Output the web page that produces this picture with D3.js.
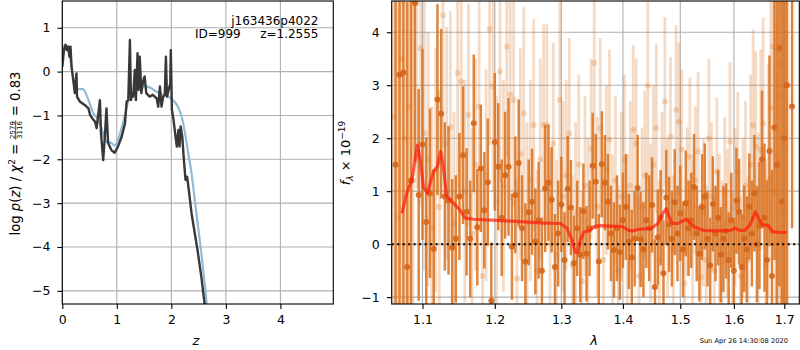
<!DOCTYPE html>
<html>
<head>
<meta charset="utf-8">
<script src="https://cdn.jsdelivr.net/npm/d3@7"></script>
<style>
  body { margin: 0; background: #fff; }
  svg text { font-family: "DejaVu Sans", sans-serif; white-space: pre; }
</style>
</head>
<body>
<svg id="chart" width="800" height="350"></svg>
<script>
// ---- p(z) panel data ----
const pzZ = [0, 0.03, 0.06, 0.08, 0.11, 0.13, 0.15, 0.17, 0.2, 0.23, 0.26, 0.27, 0.32, 0.41, 0.48, 0.51,
  0.57, 0.6, 0.63, 0.69, 0.71, 0.75, 0.78, 0.81, 0.84, 0.9, 0.96, 1.02, 1.09, 1.15, 1.18, 1.21, 1.24,
  1.26, 1.28, 1.30, 1.33, 1.35, 1.38, 1.40, 1.42, 1.45, 1.48, 1.51, 1.54, 1.60, 1.66, 1.73, 1.76, 1.79,
  1.82, 1.85, 1.88, 1.90, 1.92, 1.95, 1.98, 1.99, 2.01, 2.04, 2.07, 2.10, 2.13, 2.15, 2.17, 2.20, 2.23,
  2.26, 2.29, 2.32, 2.37, 2.41, 2.48, 2.55, 2.61, 2.67];
const pzLog = [0.11, 0.49, 0.61, 0.49, 0.57, 0.34, 0.57, 0.11, -0.19, -0.49, -0.04, -0.57, -0.68, -0.76,
  -0.84, -0.99, -1.10, -1.14, -1.29, -0.65, -1.41, -2.02, -1.48, -0.84, -1.63, -1.79, -1.85, -1.71, -1.48,
  -1.18, -0.68, -0.65, 0.72, -0.65, -0.49, -0.57, 0.04, -0.65, 0.42, -0.42, 0.34, -0.49, -0.23, -0.11,
  -0.49, -0.57, -0.53, -0.61, -0.80, -0.34, -0.80, -0.57, -0.53, 0.34, -0.57, -0.42, -0.27, 0.49, -0.87,
  -1.10, -1.41, -1.71, -1.33, -1.71, -1.25, -1.48, -2.02, -2.47, -2.40, -2.70, -3.23, -3.54, -4.07,
  -4.68, -5.30, -5.97];
const priorZ = [0, 0.05, 0.11, 0.17, 0.23, 0.29, 0.38, 0.48, 0.57, 0.66, 0.75, 0.81, 0.9, 0.96, 1.02,
  1.12, 1.21, 1.30, 1.39, 1.48, 1.60, 1.73, 1.85, 1.94, 2.03, 2.12, 2.18, 2.24, 2.30, 2.37, 2.43, 2.49,
  2.55, 2.61, 2.65, 2.70];
const priorLog = [0.49, 0.61, 0.49, 0.11, -0.30, -0.40, -0.40, -0.65, -0.95, -1.10, -1.41, -1.60, -1.63,
  -1.69, -1.56, -1.14, -0.68, -0.49, -0.34, -0.33, -0.36, -0.46, -0.53, -0.57, -0.65, -0.80, -0.99,
  -1.33, -1.79, -2.32, -2.93, -3.54, -4.14, -4.83, -5.30, -5.90];
const zTicks = [0, 1, 2, 3, 4];
const pzTicks = [-5, -4, -3, -2, -1, 0, 1];

// ---- spectrum panel data (flux in 1e-19) ----
const waveA = [1.065, 1.070, 1.075, 1.080, 1.085, 1.090, 1.095, 1.100, 1.105, 1.110,
  1.115, 1.120, 1.125, 1.130, 1.135, 1.140, 1.145, 1.150, 1.155, 1.160,
  1.165, 1.170, 1.175, 1.180, 1.185, 1.190, 1.195, 1.200, 1.205, 1.210,
  1.215, 1.220, 1.225, 1.230, 1.235, 1.240, 1.245, 1.250, 1.255, 1.260,
  1.265, 1.270, 1.275, 1.280, 1.285, 1.290, 1.295, 1.300, 1.305, 1.310,
  1.315, 1.320, 1.325, 1.330, 1.335, 1.340, 1.345, 1.350, 1.355, 1.360,
  1.365, 1.370, 1.375, 1.380, 1.385, 1.390, 1.395, 1.400, 1.405, 1.410,
  1.415, 1.420, 1.425, 1.430, 1.435, 1.440, 1.445, 1.450, 1.455, 1.460,
  1.465, 1.470, 1.475, 1.480, 1.485, 1.490, 1.495, 1.500, 1.505, 1.510,
  1.515, 1.520, 1.525, 1.530, 1.535, 1.540, 1.545, 1.550, 1.555, 1.560,
  1.565, 1.570, 1.575, 1.580, 1.585, 1.590, 1.595, 1.600, 1.605, 1.610,
  1.615, 1.620, 1.625, 1.630, 1.635, 1.640, 1.645, 1.650, 1.655, 1.660,
  1.665, 1.670, 1.675, 1.680, 1.685, 1.690, 1.695, 1.700, 1.705, 1.716];
const fluxA = [1.5, 3.2, 3.24, -0.43, 1.2, 4.55, 0.93, 1.88, 0.42, 0.96,
  -0.09, 2.73, 2.46, 0.9, 0.82, -0.07, 0.1, 0.9, 1.68, 0.61,
  0.1, 2.28, 0.32, 1.43, 0.64, 1.17, -1.07, 1.93, 1.46, 0.5,
  1.3, 1.46, -0.05, 0.93, 1.53, 0.3, -0.33, 0.6, 0.8, 0.05,
  0.45, -0.5, 1.05, 1.16, 0.84, -0.43, 0.2, 0.75, -0.3, 1.04,
  0.69, -0.36, 0.3, -0.2, 0.62, -0.18, 0.3, 1.48, 1.18, -0.33,
  1.51, 1.16, 0.8, 0.2, -0.11, 0.3, -0.15, 0.45, 0.7, 0.05,
  -0.25, 0.1, 1.06, 0.09, -0.1, 0.45, 0.3, 0.74, -0.81, 0.13,
  0.5, -0.55, 0.88, 0.37, 0.1, 0.79, 0.2, 0.58, -0.1, 0.77,
  0.3, 0.45, 1.08, 0.2, -0.18, 0.7, 0.9, 0.1, -0.4, 0.76,
  0.2, 0.5, -0.2, 0.1, 0.25, -0.3, 0.45, -0.5, 0.82, 0.61,
  -0.43, 0.1, -0.1, 0.71, 0.2, 0.96, 0.0, 0.35, 1.6, 0.5,
  -0.3, 1.76, -0.6, 2.2, 1.5, 3.7, 0.8, 2.0, 3.0, 2.6];
const errA = [8, 7, 6, 5, 4, 3.0, 2.0, 1.8, 1.6, 1.6,
  1.5, 1.8, 1.6, 1.4, 1.4, 1.3, 1.2, 1.2, 1.3, 1.2,
  1.1, 1.3, 1.1, 1.2, 1.1, 1.2, 1.1, 1.3, 1.2, 1.1,
  1.2, 1.3, 1.0, 1.1, 1.2, 1.0, 1.1, 1.0, 1.0, 1.0,
  1.1, 1.0, 1.2, 1.1, 1.0, 1.0, 1.0, 0.9, 0.9, 1.0,
  0.9, 0.9, 0.9, 0.9, 0.9, 0.9, 0.9, 1.0, 0.9, 0.9,
  1.0, 0.9, 0.9, 0.9, 0.9, 1.0, 0.9, 0.9, 1.0, 0.9,
  0.9, 0.9, 1.0, 0.9, 0.9, 0.9, 1.0, 0.9, 0.9, 0.9,
  0.9, 1.0, 0.9, 0.9, 0.9, 1.0, 0.9, 0.9, 0.9, 1.0,
  0.9, 0.9, 1.0, 0.9, 0.9, 1.0, 1.0, 0.9, 0.9, 0.9,
  0.9, 0.9, 0.9, 1.0, 0.9, 0.9, 0.9, 1.0, 1.0, 1.0,
  1.0, 1.0, 1.0, 1.0, 1.0, 1.1, 1.1, 1.2, 1.3, 1.4,
  1.5, 1.8, 2.0, 2.5, 3.5, 4.5, 6, 7, 8, 2.3];

const waveB = [1.0625, 1.0675, 1.0725, 1.0775, 1.0825, 1.0875, 1.0925, 1.0975, 1.1025, 1.1075,
  1.1125, 1.1175, 1.1225, 1.1275, 1.1325, 1.1375, 1.1425, 1.1475, 1.1525, 1.1575,
  1.1625, 1.1675, 1.1725, 1.1775, 1.1825, 1.1875, 1.1925, 1.1975, 1.2025, 1.2075,
  1.2125, 1.2175, 1.2225, 1.2275, 1.2325, 1.2375, 1.2425, 1.2475, 1.2525, 1.2575,
  1.2625, 1.2675, 1.2725, 1.2775, 1.2825, 1.2875, 1.2925, 1.2975, 1.3025, 1.3075,
  1.3125, 1.3175, 1.3225, 1.3275, 1.3325, 1.3375, 1.3425, 1.3475, 1.3525, 1.3575,
  1.3625, 1.3675, 1.3725, 1.3775, 1.3825, 1.3875, 1.3925, 1.3975, 1.4025, 1.4075,
  1.4125, 1.4175, 1.4225, 1.4275, 1.4325, 1.4375, 1.4425, 1.4475, 1.4525, 1.4575,
  1.4625, 1.4675, 1.4725, 1.4775, 1.4825, 1.4875, 1.4925, 1.4975, 1.5025, 1.5075,
  1.5125, 1.5175, 1.5225, 1.5275, 1.5325, 1.5375, 1.5425, 1.5475, 1.5525, 1.5575,
  1.5625, 1.5675, 1.5725, 1.5775, 1.5825, 1.5875, 1.5925, 1.5975, 1.6025, 1.6075,
  1.6125, 1.6175, 1.6225, 1.6275, 1.6325, 1.6375, 1.6425, 1.6475, 1.6525, 1.6575,
  1.6625, 1.6675, 1.6725, 1.6775, 1.6825, 1.6875, 1.6925, 1.6975, 1.7025, 1.7075];
const fluxB = [2.4, 0.5, 3.5, 2.0, 2.6, 1.2, 4.55, 3.7, 2.1, 1.6,
  0.3, 1.4, 0.7, 4.32, 1.9, 2.2, 0.4, 3.23, 3.07, 1.0,
  2.44, 0.2, 1.5, 2.6, -0.6, 1.3, 4.06, 2.98, 0.8, 3.26,
  1.1, 3.73, 2.82, 2.72, -0.65, 1.7, 2.47, 0.4, 1.2, 2.25,
  -0.5, 1.6, 2.25, 2.25, 0.0, 1.9, -0.2, 2.72, 0.9, 1.3,
  2.09, -0.4, 0.6, 1.5, -0.7, 1.1, 0.3, 1.8, 3.42, 0.7,
  2.19, -0.3, 1.4, 1.97, 0.1, 1.2, -0.5, 0.9, 1.6, 0.2,
  1.1, 2.16, 1.9, -0.6, 0.7, 1.3, 2.99, 0.4, 1.5, 2.19,
  -0.3, 1.0, 2.69, 0.5, 2.03, -0.1, 2.53, 2.31, 1.79, -0.74,
  0.8, 1.65, 0.2, 1.2, 1.75, -0.62, 0.6, -0.3, 2.0, 0.9,
  -0.5, 1.37, 0.3, -0.2, 1.0, 0.4, 1.94, -0.4, 0.7, 1.37,
  -0.6, 0.5, 1.1, -0.3, 1.5, 2.25, 1.84, 0.3, 1.78, 2.28,
  -0.4, 1.2, 2.57, 3.73, 1.0, 2.8, 3.4, 0.6, 1.8, 3.0];
const errB = [9, 7, 6, 5, 4.5, 4, 3.5, 3, 2.6, 2.4,
  2.3, 2.3, 2.2, 2.5, 2.2, 2.2, 2.1, 2.2, 2.2, 2.1,
  2.1, 2.0, 2.0, 2.1, 2.0, 2.0, 2.2, 2.0, 2.0, 2.1,
  2.0, 2.1, 2.0, 2.0, 1.9, 2.0, 2.0, 1.9, 1.9, 2.0,
  1.9, 1.9, 1.9, 1.9, 1.8, 1.9, 1.8, 2.0, 1.8, 1.8,
  1.8, 1.7, 1.7, 1.7, 1.7, 1.7, 1.7, 1.7, 2.0, 1.7,
  1.7, 1.6, 1.6, 1.7, 1.6, 1.6, 1.6, 1.6, 1.6, 1.5,
  1.6, 1.6, 1.6, 1.5, 1.5, 1.6, 1.8, 1.5, 1.5, 1.6,
  1.5, 1.5, 1.6, 1.5, 1.5, 1.4, 1.6, 1.5, 1.5, 1.4,
  1.4, 1.5, 1.4, 1.4, 1.5, 1.4, 1.4, 1.4, 1.5, 1.4,
  1.4, 1.4, 1.4, 1.4, 1.4, 1.4, 1.5, 1.4, 1.5, 1.5,
  1.5, 1.5, 1.6, 1.6, 1.7, 1.8, 1.8, 1.8, 1.9, 2.0,
  2.0, 2.2, 2.4, 2.8, 3.2, 4, 5, 6, 7, 8];

const modelWave = [1.073, 1.0794, 1.086, 1.0904, 1.0934, 1.097, 1.1013, 1.1066, 1.1146, 1.1199, 1.1245,
  1.128, 1.1325, 1.1384, 1.144, 1.151, 1.158, 1.1695, 1.2177, 1.2676, 1.2985, 1.309, 1.3168, 1.322,
  1.326, 1.330, 1.336, 1.346, 1.352, 1.362, 1.399, 1.41, 1.416, 1.427, 1.449, 1.46, 1.469, 1.475,
  1.48, 1.486, 1.495, 1.506, 1.512, 1.518, 1.527, 1.5425, 1.5737, 1.593, 1.602, 1.611, 1.621, 1.631,
  1.642, 1.65, 1.657, 1.667, 1.677, 1.697, 1.705];
const modelFlux = [0.58, 0.96, 1.21, 1.59, 1.87, 1.59, 1.08, 0.96, 1.37, 1.46, 1.75,
  1.46, 0.90, 0.83, 0.74, 0.64, 0.49, 0.47, 0.44, 0.40, 0.39, 0.30, 0.08, -0.15,
  -0.15, 0.08, 0.23, 0.26, 0.33, 0.35, 0.33, 0.26, 0.25, 0.28, 0.30, 0.39, 0.58, 0.67,
  0.52, 0.39, 0.39, 0.45, 0.47, 0.39, 0.32, 0.26, 0.25, 0.26, 0.30, 0.26, 0.26, 0.36,
  0.61, 0.45, 0.36, 0.36, 0.23, 0.22, 0.22];
const lamTicks = [1.1, 1.2, 1.3, 1.4, 1.5, 1.6, 1.7];
const fluxTicks = [-1, 0, 1, 2, 3, 4];

const svg = d3.select('#chart');
const tickFont = 12.5;
const gridColor = '#b0b0b0';
const orange = '#d9701c';

// panel scales
const xZ = d3.scaleLinear().domain([0, 4.97]).range([62.3, 333.3]);
const yP = d3.scaleLinear().domain([-5.30, 1.61]).range([304, 1]);
const xL = d3.scaleLog().domain([1.06, 1.731]).range([391.7, 799.3]);
const yF = d3.scaleLinear().domain([-1.13, 4.59]).range([304, 1]);

function setupPanel(id, x, y, xTicks, yTicks, xFmt) {
  const [x0, x1] = x.range();
  const [y1, y0] = y.range();
  svg.append('clipPath').attr('id', id)
    .append('rect').attr('x', x0).attr('y', y0).attr('width', x1 - x0).attr('height', y1 - y0);

  const g = svg.append('g');
  g.selectAll(null).data(xTicks).join('line')
    .attr('x1', d => x(d)).attr('x2', d => x(d)).attr('y1', y0).attr('y2', y1)
    .attr('stroke', gridColor).attr('stroke-width', 1.1);
  g.selectAll(null).data(yTicks).join('line')
    .attr('x1', x0).attr('x2', x1).attr('y1', d => y(d)).attr('y2', d => y(d))
    .attr('stroke', gridColor).attr('stroke-width', 1.1);

  const plot = g.append('g').attr('clip-path', `url(#${id})`);

  const finish = () => {
    const ax = svg.append('g').attr('transform', `translate(0,${y1})`)
      .call(d3.axisBottom(x).tickValues(xTicks).tickFormat(xFmt).tickSize(4.9).tickPadding(6.5));
    const ay = svg.append('g').attr('transform', `translate(${x0},0)`)
      .call(d3.axisLeft(y).tickValues(yTicks).tickFormat(d3.format('d')).tickSize(4.9).tickPadding(7));
    [ax, ay].forEach(a => {
      a.select('.domain').remove();
      a.selectAll('line').attr('stroke', '#000').attr('stroke-width', 1.1);
      a.selectAll('text').attr('font-size', tickFont).attr('fill', '#000')
        .attr('font-family', '"DejaVu Sans", sans-serif');
    });
    svg.append('rect').attr('x', x0).attr('y', y0).attr('width', x1 - x0).attr('height', y1 - y0)
      .attr('fill', 'none').attr('stroke', '#000').attr('stroke-width', 1.1);
  };
  return { plot, finish };
}

// ---- left panel: p(z) ----
const left = setupPanel('clipL', xZ, yP, zTicks, pzTicks, d3.format('d'));
left.plot.append('path')
  .datum(priorZ.map((z, i) => [z, priorLog[i]]))
  .attr('d', d3.line().x(d => xZ(d[0])).y(d => yP(d[1])).curve(d3.curveMonotoneX))
  .attr('fill', 'none').attr('stroke', '#8fbbd9').attr('stroke-width', 2.2);
left.plot.append('path')
  .datum(pzZ.map((z, i) => [z, pzLog[i]]))
  .attr('d', d3.line().x(d => xZ(d[0])).y(d => yP(d[1])))
  .attr('fill', 'none').attr('stroke', '#383838').attr('stroke-width', 2.4)
  .attr('stroke-linejoin', 'round');
left.finish();

svg.append('text').attr('x', 318.5).attr('y', 24.5).attr('text-anchor', 'end')
  .attr('font-size', 12).text('j163436p4022');
svg.append('text').attr('x', 195).attr('y', 38).attr('font-size', 12).text('ID=999');
svg.append('text').attr('x', 318.5).attr('y', 38).attr('text-anchor', 'end')
  .attr('font-size', 12).text('z=1.2555');

// ---- right panel: spectrum ----
const right = setupPanel('clipR', xL, yF, lamTicks, fluxTicks, d3.format('.1f'));
const specB = waveB.map((w, i) => ({ w, f: fluxB[i], e: errB[i] }));
const specA = waveA.map((w, i) => ({ w, f: fluxA[i], e: errA[i] }));

right.plot.selectAll(null).data(specB).join('line')
  .attr('x1', d => xL(d.w)).attr('x2', d => xL(d.w))
  .attr('y1', d => yF(d.f - d.e)).attr('y2', d => yF(d.f + d.e))
  .attr('stroke', orange).attr('stroke-opacity', 0.25).attr('stroke-width', 2.8);
right.plot.selectAll(null).data(specB).join('circle')
  .attr('cx', d => xL(d.w)).attr('cy', d => yF(d.f)).attr('r', 3)
  .attr('fill', orange).attr('fill-opacity', 0.25);

right.plot.selectAll(null).data(specA).join('line')
  .attr('x1', d => xL(d.w)).attr('x2', d => xL(d.w))
  .attr('y1', d => yF(d.f - d.e)).attr('y2', d => yF(d.f + d.e))
  .attr('stroke', orange).attr('stroke-opacity', 0.85).attr('stroke-width', 2.5);
right.plot.selectAll(null).data(specA).join('circle')
  .attr('cx', d => xL(d.w)).attr('cy', d => yF(d.f)).attr('r', 3)
  .attr('fill', '#d4661a').attr('fill-opacity', 0.9);

right.plot.append('line')
  .attr('x1', xL.range()[0]).attr('x2', xL.range()[1]).attr('y1', yF(0)).attr('y2', yF(0))
  .attr('stroke', '#000').attr('stroke-width', 2).attr('stroke-dasharray', '2,3.5');

right.plot.append('path')
  .datum(modelWave.map((w, i) => [w, modelFlux[i]]))
  .attr('d', d3.line().x(d => xL(d[0])).y(d => yF(d[1])))
  .attr('fill', 'none').attr('stroke', '#ff1a0a').attr('stroke-opacity', 0.7)
  .attr('stroke-width', 3.2).attr('stroke-linejoin', 'round');
right.finish();

// ---- axis labels ----
svg.append('text').attr('x', 196).attr('y', 345).attr('text-anchor', 'middle')
  .attr('font-size', 13).attr('font-style', 'italic').text('z');
svg.append('text').attr('x', 594).attr('y', 345).attr('text-anchor', 'middle')
  .attr('font-size', 13).attr('font-style', 'italic').text('λ');
svg.append('text').attr('x', 788).attr('y', 342.5).attr('text-anchor', 'end')
  .attr('font-size', 6.7).text('Sun Apr 26 14:30:08 2020');

// left y label with fraction
const yl = svg.append('g');
const t1 = yl.append('text').attr('font-size', 13.2);
t1.append('tspan').text('log ');
t1.append('tspan').attr('font-style', 'italic').text('p');
t1.append('tspan').text('(');
t1.append('tspan').attr('font-style', 'italic').text('z');
t1.append('tspan').text(') / ');
t1.append('tspan').attr('font-style', 'italic').text('χ');
t1.append('tspan').attr('font-size', 9).attr('dy', -5).text('2');
t1.append('tspan').attr('dy', 5).text(' = ');
const w1 = t1.node().getComputedTextLength();
const num = yl.append('text').attr('font-size', 7).attr('text-anchor', 'middle').text('2579');
const den = yl.append('text').attr('font-size', 7).attr('text-anchor', 'middle').text('3116');
const fw = Math.max(num.node().getComputedTextLength(), den.node().getComputedTextLength()) + 1.5;
num.attr('x', w1 + fw / 2).attr('y', -5);
den.attr('x', w1 + fw / 2).attr('y', 2);
yl.append('line').attr('x1', w1).attr('x2', w1 + fw).attr('y1', -3.8).attr('y2', -3.8)
  .attr('stroke', '#000').attr('stroke-width', 0.7);
const t2 = yl.append('text').attr('font-size', 13.2).attr('x', w1 + fw).text(' = 0.83');
const wTot = w1 + fw + t2.node().getComputedTextLength();
yl.attr('transform', `translate(19.5,${153.5 + wTot / 2}) rotate(-90)`);

// right y label
const yr = svg.append('g');
const t3 = yr.append('text').attr('font-size', 13);
t3.append('tspan').attr('font-style', 'italic').text('f');
t3.append('tspan').attr('font-size', 9).attr('font-style', 'italic').attr('dy', 3).text('λ');
t3.append('tspan').attr('dy', -3).text(' × 10');
t3.append('tspan').attr('font-size', 9).attr('dy', -5).text('−19');
const w3 = t3.node().getComputedTextLength();
yr.attr('transform', `translate(350,${153 + w3 / 2}) rotate(-90)`);
</script>
</body>
</html>
